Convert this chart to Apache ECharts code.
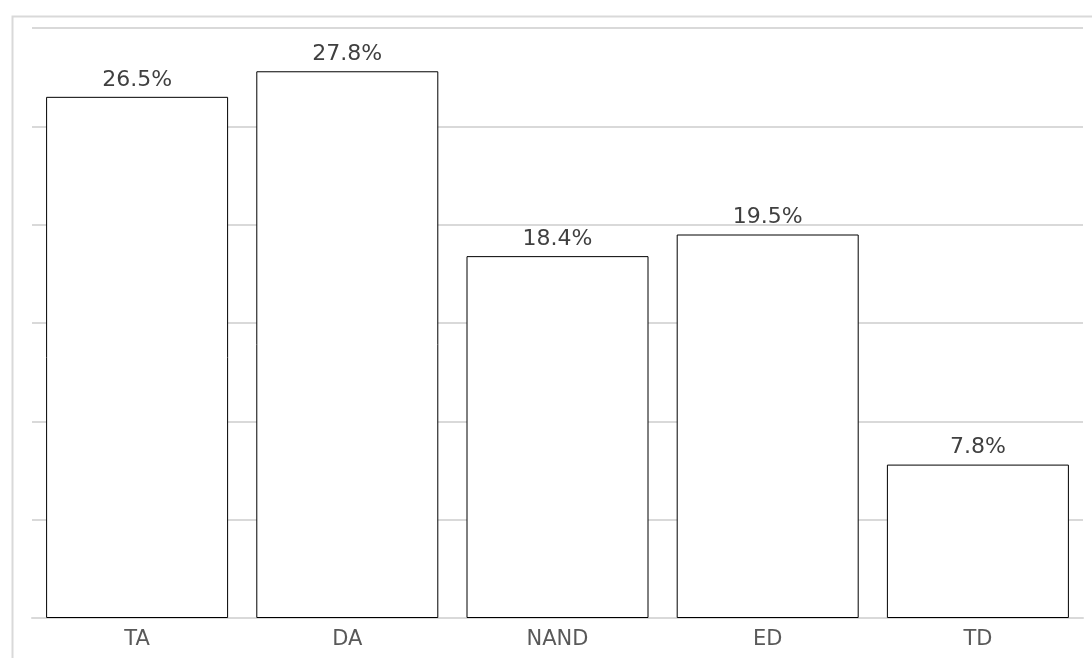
<!DOCTYPE html>
<html><head><meta charset="utf-8">
<script src="https://cdn.jsdelivr.net/npm/echarts@6/dist/echarts.min.js"></script>
<style>html,body{margin:0;padding:0;background:#fff}#c{width:1092px;height:658px}</style>
</head><body><div id="c"></div>
<script>
const categories = ['TA', 'DA', 'NAND', 'ED', 'TD'];
const values = [26.5, 27.8, 18.4, 19.5, 7.8];
const chart = echarts.init(document.getElementById('c'), null, {renderer: 'canvas'});
chart.setOption({
  animation: false,
  backgroundColor: '#fff',
  graphic: [{
    type: 'rect', left: 10, top: 14, z: -1,
    shape: {width: 1100, height: 660},
    style: {fill: 'none', stroke: '#d9d9d9', lineWidth: 2}
  }],
  grid: {left: 32, right: 9, top: 28, bottom: 40, containLabel: false},
  xAxis: {
    type: 'category', data: categories,
    axisLine: {lineStyle: {color: '#d9d9d9', width: 2}},
    axisTick: {show: false},
    axisLabel: {color: '#595959', fontSize: 21, fontFamily: 'DejaVu Sans', margin: 11}
  },
  yAxis: {
    type: 'value', min: 0, max: 30, interval: 5,
    axisLabel: {show: false}, axisLine: {show: false}, axisTick: {show: false},
    splitLine: {lineStyle: {color: '#d9d9d9', width: 2}}
  },
  series: [{
    type: 'bar', data: values, barWidth: 182,
    itemStyle: {color: '#fff', borderColor: '#000', borderWidth: 1},
    label: {show: true, position: 'top', distance: 6, color: '#404040', fontSize: 22,
      fontFamily: 'DejaVu Sans', formatter: p => p.value.toFixed(1) + '%'}
  }]
});
</script></body></html>
